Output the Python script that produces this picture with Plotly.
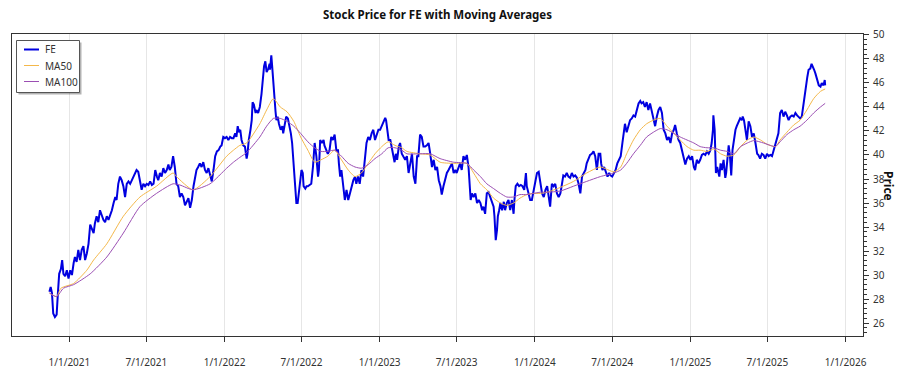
import pandas as pd
import plotly.graph_objects as go

BASE = "2021-01-01"

# FE closing price: (days after 1/1/2021, price)
fe_days = [-47,-44,-41,-38,-34,-30,-27,-24,-20,-17,-14,-10,-6,-2,2,6,10,13,17,21,25,29,33,37,41,45,49,53,57,60,64,68,72,76,80,84,88,92,96,100,104,108,111,115,119,123,127,131,135,139,143,147,151,155,158,162,166,170,174,178,182,186,190,194,198,202,206,209,213,217,221,225,229,233,236,240,244,248,252,256,260,264,268,272,276,280,284,288,292,296,299,303,
           307,311,315,319,323,327,331,335,339,343,347,351,355,358,362,366,370,374,378,382,386,390,393,396,399,402,405,409,413,417,419,422,426,429,431,434,438,440,444,448,452,455,458,461,464,468,471,472,475,477,480,482,485,487,490,493,497,501,503,506,510,514,517,521,524,527,530,534,537,540,543,546,549,551,555,558,561,565,569,573,577,581,585,587,590,594,598,600,604,608,612,616,620,624,628,632,634,637,640,644,648,652,656,660,664,668,672,675,679,683,687,691,695,699,703,707,711,715,719,723,727,
           731,735,739,743,745,748,751,755,759,763,765,768,771,775,778,782,786,790,794,798,802,806,810,814,818,821,825,829,833,837,841,845,849,853,857,861,865,869,873,876,880,884,888,892,896,900,904,908,911,915,919,923,927,931,935,939,941,944,947,951,955,959,963,967,971,974,978,982,986,990,994,998,1000,1003,1006,1008,1011,1014,1018,1022,1025,1029,1033,1037,1041,1045,1047,1050,1054,1058,1062,1066,1070,1074,1076,1080,1084,1088,1092,1096,1100,1104,1108,1112,1116,1120,1124,1127,1131,1135,1139,1143,1147,1151,
           1155,1158,1162,1166,1170,1174,1178,1182,1186,1190,1194,1198,1202,1206,1210,1214,1217,1221,1225,1229,1233,1237,1241,1245,1249,1251,1254,1258,1262,1266,1270,1273,1277,1281,1285,1289,1293,1297,1301,1305,1307,1311,1315,1319,1323,1327,1331,1335,1339,1343,1346,1350,1354,1358,1362,1366,1370,1374,1378,1382,1386,1390,1394,1398,1402,1406,1410,1414,1418,1422,1425,1429,1433,1437,1441,1445,1449,1453,1457,1461,1465,1469,1472,1476,1480,
           1484,1488,1492,1496,1500,1504,1508,1511,1514,1515,1518,1519,1521,1524,1527,1529,1532,1535,1539,1543,1545,1548,1551,1554,1557,1560,1564,1567,1570,1574,1578,1582,1584,1587,1591,1594,1598,1602,1606,1610,1614,1618,1621,1625,1629,1633,1637,1641,1645,1649,1653,1657,1661,1665,1668,1672,1676,1680,1684,1688,1692,1696,1700,1704,1708,1712,1715,1719,1723,1727,1731,1733,1736,1739,1743,1746,1749,1752,1755,1759,1763,1767,1770,1774,1777,1778]
fe_price = [28.6,29.0,28.5,26.8,26.5,26.7,28.5,30.1,30.5,31.25,30.1,29.9,30.4,29.7,30.4,30.0,31.0,31.5,31.1,32.1,31.25,32.1,32.4,31.25,31.8,32.6,34.2,33.9,33.5,34.3,34.9,34.4,35.4,35.0,34.6,34.4,34.9,34.6,35.0,35.4,36.0,36.5,36.25,37.6,38.2,37.9,37.4,36.5,37.6,37.8,37.6,37.9,38.2,38.5,38.75,38.6,37.9,37.1,37.6,37.4,37.6,37.5,37.8,37.5,37.6,38.75,38.2,37.9,38.5,38.2,38.9,38.5,38.75,39.2,38.75,39.0,39.9,39.0,37.6,37.4,36.5,36.8,36.5,35.8,36.1,36.4,35.6,36.25,37.4,38.2,38.75,39.0,
            39.3,39.0,39.4,38.75,38.5,38.9,38.2,37.8,38.75,39.9,40.3,40.4,40.7,40.8,41.5,41.4,41.5,41.25,41.5,41.4,41.4,41.8,41.5,42.4,41.9,42.1,41.25,40.8,40.7,39.7,40.1,41.25,42.1,42.9,44.4,44.2,43.5,43.75,43.5,44.0,45.1,46.25,47.4,47.8,46.9,47.2,47.6,47.1,48.3,47.4,45.7,44.4,43.6,42.9,43.2,42.6,42.1,42.4,41.8,42.4,43.2,43.05,42.6,41.8,41.0,39.3,37.9,36.0,36.0,37.1,38.2,38.75,38.5,37.4,37.2,37.4,37.4,37.5,37.6,39.0,41.0,39.9,38.2,38.75,41.25,41.0,41.25,40.8,40.4,40.1,40.4,41.5,41.25,41.7,40.4,40.4,39.3,38.2,38.75,37.6,36.25,37.1,36.25,36.8,37.4,37.9,38.2,37.6,38.2,37.6,38.75,38.2,39.6,41.0,41.5,41.25,41.8,42.1,41.25,41.8,42.1,
            42.1,42.4,42.8,43.1,42.9,42.1,41.25,41.25,40.4,39.6,39.4,40.1,39.6,40.7,41.0,40.1,39.9,39.6,39.9,38.5,39.3,40.1,38.2,37.6,39.9,39.9,41.7,41.5,40.7,40.7,40.8,41.0,40.1,39.0,39.6,38.75,39.0,37.9,37.4,36.7,37.4,37.9,38.5,38.75,39.0,39.3,38.5,38.75,38.5,39.0,39.3,38.75,39.9,39.6,40.0,39.0,37.9,36.25,36.8,36.5,36.8,36.0,36.25,36.0,35.4,35.7,35.1,36.8,36.9,36.5,36.25,35.7,34.9,32.9,33.75,34.9,35.4,36.0,35.4,36.1,35.4,36.0,36.25,35.4,36.25,35.1,36.25,37.4,37.6,37.4,37.5,37.4,37.1,38.5,37.4,36.8,36.25,36.25,37.1,37.6,38.5,38.6,37.6,36.8,36.5,37.1,37.4,36.8,35.7,37.6,37.4,37.6,36.8,36.5,
            36.8,37.4,38.3,38.2,38.5,38.2,38.1,38.5,38.2,38.3,38.1,37.6,36.8,38.2,38.5,38.75,39.3,39.6,40.0,40.1,40.3,39.9,38.75,40.1,40.1,39.3,38.75,39.0,38.5,38.2,38.5,38.3,38.2,38.5,38.75,39.3,39.6,39.9,41.0,42.1,42.6,41.9,42.4,42.9,43.05,43.3,43.2,43.75,44.3,44.5,44.3,44.4,44.0,44.4,43.75,44.3,43.6,42.9,42.4,43.2,43.75,44.0,43.5,42.1,41.8,41.25,41.5,41.0,41.8,42.1,42.5,41.8,41.25,41.0,40.4,39.9,39.2,39.7,39.9,39.6,39.9,39.0,38.75,39.6,39.3,
            39.6,40.0,40.1,40.0,40.3,40.1,40.4,41.0,42.1,43.3,42.1,39.3,38.5,39.0,38.3,38.2,39.3,38.75,39.6,38.1,38.5,39.9,40.8,39.9,38.3,40.4,41.5,42.1,42.4,42.8,43.05,42.9,43.2,42.9,42.1,41.25,42.8,42.4,41.5,41.8,41.0,40.1,40.0,39.7,40.1,40.0,39.7,40.1,39.9,40.0,39.9,40.4,41.0,41.5,41.8,43.5,43.75,43.2,43.6,43.3,42.9,43.2,43.3,43.2,43.5,43.3,43.2,43.05,43.2,44.3,45.4,45.7,46.5,47.1,47.2,47.6,47.4,47.1,46.8,46.25,45.8,45.7,46.0,45.8,46.25,45.8]

# 50-day moving average
ma50_days = [-47,-30,-20,10,41,57,88,127,166,205,244,252,291,331,370,386,401,417,448,464,480,496,512,528,544,561,577,592,608,624,640,656,672,687,703,719,735,750,766,782,794,825,849,872,904,935,951,967,982,998,1014,1029,1045,1060,1076,1092,1108,1124,1155,1186,1217,1249,1281,1297,1311,1327,1343,1358,1374,1390,1406,1422,1437,1453,1469,1484,1500,1516,1532,1547,1563,1579,1595,1610,1626,1641,1661,1672,1688,1704,1719,1735,1751,1767,1778]
ma50_vals = [28.5,28.2,28.9,29.3,30.4,31.25,32.6,34.9,36.5,37.4,38.5,38.2,37.1,38.2,39.9,40.4,40.8,41.0,42.6,43.75,44.7,44.0,43.6,42.8,41.5,40.4,39.4,39.6,39.9,40.4,39.6,38.75,38.2,38.5,39.3,40.1,40.7,41.1,40.8,40.6,40.3,40.1,40.0,39.4,39.3,39.3,38.5,37.6,37.1,36.4,36.0,35.8,36.0,36.4,36.7,36.8,36.8,36.9,37.3,37.8,38.5,39.0,38.6,39.0,40.1,41.25,42.1,42.6,42.9,43.05,42.4,41.8,41.25,40.7,40.4,40.4,40.3,40.5,40.1,39.9,40.0,40.7,41.25,41.5,41.25,40.9,40.7,41.25,41.9,42.5,42.9,43.75,44.7,45.3,45.5]

# 100-day moving average
ma100_days = [-47,-30,-14,10,49,88,127,166,205,244,260,291,331,370,386,401,417,448,464,480,496,512,528,544,561,577,592,608,624,640,656,672,687,703,719,735,750,766,782,794,825,849,872,904,935,951,967,982,998,1014,1029,1045,1060,1076,1092,1108,1124,1155,1186,1217,1249,1281,1297,1311,1327,1343,1358,1374,1390,1406,1422,1437,1453,1469,1484,1500,1516,1532,1547,1563,1579,1595,1610,1633,1649,1661,1672,1688,1704,1719,1735,1751,1767,1778]
ma100_vals = [28.5,28.2,28.9,29.2,30.1,31.5,33.5,35.7,36.8,37.6,37.5,37.1,37.6,38.9,39.4,39.8,40.2,41.5,42.4,43.05,43.05,42.8,42.4,41.8,41.1,40.6,40.3,40.3,40.4,39.9,39.3,39.0,38.9,39.2,39.7,40.1,40.6,40.6,40.4,40.1,40.1,40.1,39.7,39.4,39.3,38.75,38.2,37.6,37.2,36.8,36.5,36.5,36.7,36.7,36.8,36.9,36.9,37.0,37.4,37.8,38.2,38.5,38.75,39.3,40.1,40.8,41.5,41.9,42.2,42.1,41.8,41.5,41.25,41.0,40.7,40.6,40.6,40.4,40.3,40.1,40.7,41.0,41.2,41.0,40.8,40.7,41.1,41.7,42.1,42.4,42.9,43.5,44.0,44.3]

series_names = ["FE", "MA50", "MA100"]
series_colors = ["#0000e0", "#f4b84a", "#9b4fb3"]
series_widths = [2, 1, 1]

base = pd.Timestamp(BASE)
def to_dates(days):
    return [base + pd.Timedelta(days=d) for d in days]

FONT = "Noto Sans, Open Sans, sans-serif"
W, H = 900, 375
L, R, T, B = 12, 863, 34, 336  # plot area in pixels
PW, PH = R - L, B - T

def px(x):  # pixel -> paper x
    return (x - L) / PW

def py(y):  # pixel -> paper y
    return (B - y) / PH

fig = go.Figure()
xs = [fe_days, ma50_days, ma100_days]
ys = [fe_price, ma50_vals, ma100_vals]
for i, name in enumerate(series_names):
    line = dict(color=series_colors[i], width=series_widths[i])
    if i > 0:
        line.update(shape="spline", smoothing=0.6)
    fig.add_trace(go.Scatter(x=to_dates(xs[i]), y=ys[i], mode="lines", name=name,
                             line=line, showlegend=False))

# hand-drawn legend box (with drop shadow)
shapes = [
    dict(type="rect", xref="paper", yref="paper", x0=px(18.5), x1=px(81.5), y0=py(94.5), y1=py(42.5),
         fillcolor="rgba(0,0,0,0.30)", line=dict(width=0), layer="above"),
    dict(type="rect", xref="paper", yref="paper", x0=px(16.5), x1=px(79.5), y0=py(92.5), y1=py(40.5),
         fillcolor="white", line=dict(color="#555555", width=1), layer="above"),
]
annotations = []
rows_y = [49.5, 65.5, 81.5]
for i, name in enumerate(series_names):
    shapes.append(dict(type="line", xref="paper", yref="paper", x0=px(24), x1=px(39),
                       y0=py(rows_y[i]), y1=py(rows_y[i]),
                       line=dict(color=series_colors[i], width=series_widths[i]), layer="above"))
    annotations.append(dict(text=name, xref="paper", yref="paper", x=px(42.5), y=py(rows_y[i]),
                            xanchor="left", yanchor="middle", showarrow=False,
                            font=dict(family=FONT, size=10, color="#333333")))

annotations.append(dict(text="<b>Price</b>", textangle=90, xref="paper", yref="paper",
                        x=px(889), y=py(186), xanchor="center", yanchor="middle",
                        showarrow=False, font=dict(family=FONT, size=12, color="#111111")))

fig.update_layout(
    template="none",
    width=W, height=H,
    margin=dict(l=L, r=W - R, t=T, b=H - B, pad=0, autoexpand=False),
    paper_bgcolor="white", plot_bgcolor="white",
    font=dict(family=FONT, size=10, color="#333333"),
    title=dict(text="<b>Stock Price for FE with Moving Averages</b>",
               x=(L + R) / 2 / W, xanchor="center", y=1 - 15 / H, yanchor="middle",
               font=dict(family=FONT, size=11.5, color="#111111")),
    showlegend=False,
    xaxis=dict(
        range=["2020-08-19", "2026-02-11"],
        tick0="2021-01-01", dtick="M6", tickformat="%-m/%-d/%Y",
        showgrid=True, gridcolor="#e6e6e6", gridwidth=1,
        showline=True, linecolor="#333333", linewidth=1, mirror=True,
        ticks="outside", ticklen=5, tickcolor="#333333",
        ticklabelstandoff=12, zeroline=False, automargin=False,
    ),
    yaxis=dict(
        side="right", range=[24.92, 50.08],
        tick0=0, dtick=2, showgrid=False,
        showline=True, linecolor="#333333", linewidth=1, mirror=True,
        ticks="outside", ticklen=5, tickcolor="#333333",
        minor=dict(dtick=0.4, ticks="outside", ticklen=2.5, tickcolor="#333333", showgrid=False),
        zeroline=False, ticklabelstandoff=2, automargin=False,
    ),
    shapes=shapes,
    annotations=annotations,
)

fig.write_html("out.html", config={"displayModeBar": False},
               post_script="document.body.style.margin='0';document.body.style.overflow='hidden';")
